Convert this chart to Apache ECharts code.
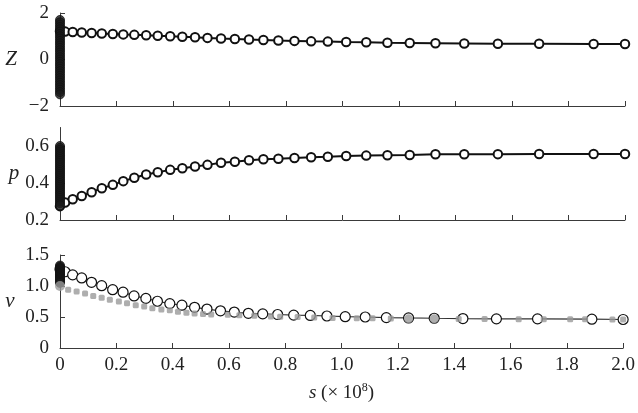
<!DOCTYPE html>
<html>
<head>
<meta charset="utf-8">
<script src="https://cdn.jsdelivr.net/npm/echarts@6/dist/echarts.min.js"></script>
<style>
html,body{margin:0;padding:0;background:#fff;}
#chart{width:638px;height:413px;}
</style>
</head>
<body>
<div id="chart"></div>
<script>
// sample positions of the circle markers, s in units of 1e8
var sVals = [0.018,0.045,0.077,0.112,0.148,0.187,0.224,0.263,0.305,0.346,0.390,0.433,0.478,0.522,0.570,0.619,0.669,0.720,0.773,0.830,0.889,0.948,1.013,1.084,1.159,1.238,1.329,1.431,1.550,1.696,1.889,2.0];
var zVals = [1.20,1.18,1.16,1.14,1.12,1.10,1.08,1.06,1.04,1.02,1.00,0.98,0.96,0.93,0.90,0.88,0.86,0.84,0.82,0.80,0.78,0.77,0.75,0.74,0.72,0.71,0.70,0.69,0.68,0.68,0.67,0.67];
var pVals = [0.294,0.312,0.330,0.350,0.372,0.390,0.410,0.428,0.446,0.458,0.471,0.480,0.489,0.498,0.509,0.515,0.523,0.528,0.531,0.535,0.539,0.542,0.546,0.548,0.550,0.551,0.555,0.555,0.556,0.557,0.557,0.557];
var vVals = [1.23,1.18,1.13,1.06,1.005,0.94,0.90,0.84,0.80,0.754,0.716,0.69,0.656,0.628,0.60,0.58,0.56,0.55,0.54,0.53,0.525,0.516,0.505,0.50,0.49,0.485,0.48,0.475,0.47,0.47,0.465,0.46];
// values at s = 0 (start of each curve)
var zStart = 1.22, pStart = 0.275, vStart = 1.27;
// dense transient stacks drawn at s = 0
var zStack = [1.7,1.6,1.5,1.4,1.3,1.2,1.1,1.0,0.9,0.8,0.7,0.6,0.5,0.4,0.3,0.2,0.1,0.0,-0.1,-0.2,-0.3,-0.4,-0.5,-0.6,-0.7,-0.8,-0.9,-1.0,-1.1,-1.2,-1.3,-1.4,-1.5];
var pStack = [0.60,0.59,0.58,0.57,0.56,0.55,0.54,0.53,0.52,0.51,0.50,0.49,0.48,0.47,0.46,0.45,0.44,0.43,0.42,0.41,0.40,0.39,0.38,0.37,0.36,0.35,0.34,0.33,0.32,0.31,0.30,0.29,0.28];
var vStack = [1.33,1.31,1.29,1.27,1.25,1.23,1.21,1.19,1.17,1.15,1.13,1.11,1.09,1.07,1.05];
// grey reference series (bottom panel)
var gS = [0,0.029,0.059,0.089,0.118,0.148,0.177,0.209,0.238,0.269,0.299,0.328,0.360,0.390,0.419,0.449,0.478,0.508,0.537,0.596,0.637,0.690,0.749,0.782,0.844,0.903,0.968,1.054,1.110,1.175,1.238,1.329,1.416,1.508,1.629,1.718,1.812,1.865,1.962,2.0];
var gV = [1.0,0.94,0.91,0.88,0.84,0.81,0.78,0.75,0.72,0.69,0.67,0.64,0.62,0.61,0.585,0.57,0.557,0.55,0.54,0.535,0.53,0.52,0.51,0.505,0.50,0.49,0.485,0.48,0.478,0.475,0.47,0.47,0.468,0.466,0.465,0.463,0.462,0.462,0.46,0.46];
var xTicks = [0,0.2,0.4,0.6,0.8,1.0,1.2,1.4,1.6,1.8,2.0];
var zTicks = [-2,0,2];
var pTicks = [0.2,0.4,0.6];
var vTicks = [0,0.5,1.0,1.5];

var FONT = '"Times New Roman", "Liberation Serif", Times, serif';
var AX = '#3a3a3a';
function pairs(xs, ys){ return xs.map(function(x,i){return [x, ys[i]];}); }
function withStart(st, xs, ys){ return [[0, st]].concat(pairs(xs, ys)); }
function stack(ys){ return ys.map(function(y){return [0,y];}); }

var grids = [
  {left:60, right:13, top:13, height:93},
  {left:60, right:13, top:127.5, height:92.5},
  {left:60, right:13, top:255, height:93}
];
function xAxis(idx, showLabels){
  var a = {
    type:'value', gridIndex:idx, min:0, max:2, interval:0.2,
    axisLine:{show:true, onZero:false, lineStyle:{color:AX, width:1}},
    axisTick:{show:true, inside:true, length:5, lineStyle:{color:AX}},
    splitLine:{show:false},
    axisLabel:{show:showLabels, margin:8, fontFamily:FONT, fontSize:19, color:'#222',
      formatter:function(v){ return v===0 ? '0' : v.toFixed(1); }}
  };
  if (showLabels){
    a.name = '{i|s} (× 10{sup|8})';
    a.nameLocation = 'middle';
    a.nameGap = 45;
    a.nameTextStyle = {fontFamily:FONT, fontSize:19, color:'#222', verticalAlign:'middle',
      rich:{ i:{fontFamily:FONT, fontSize:19, fontStyle:'italic', color:'#222'},
             sup:{fontFamily:FONT, fontSize:12, color:'#222', verticalAlign:'bottom', padding:[0,0,10,0]} }};
  }
  return a;
}
function yAxis(idx, min, max, ticks, name, gap, fmt){
  return {
    type:'value', gridIndex:idx, min:min, max:max,
    name:name, nameLocation:'middle', nameGap:gap, nameRotate:0,
    nameTextStyle:{fontFamily:FONT, fontSize:21, fontStyle:'italic', color:'#222', align:'center', verticalAlign:'middle'},
    axisLine:{show:true, onZero:false, lineStyle:{color:AX, width:1}},
    axisTick:{show:true, inside:true, length:5, lineStyle:{color:AX}, customValues:ticks},
    splitLine:{show:false},
    axisLabel:{margin:11, fontFamily:FONT, fontSize:19, color:'#222', customValues:ticks, formatter:fmt}
  };
}
var chart = echarts.init(document.getElementById('chart'), null, {renderer:'canvas'});
var circ = function(bw, size, fill){ return {symbol:'circle', symbolSize:size, itemStyle:{color:fill || '#fff', borderColor:'#111', borderWidth:bw}}; };
function lineSeries(idx, data, lw, bw, size, lc){
  return Object.assign({type:'line', xAxisIndex:idx, yAxisIndex:idx, data:data, showSymbol:true, showAllSymbol:true,
    lineStyle:{color:lc, width:lw}, animation:false, z:3}, circ(bw, size));
}
function stackSeries(idx, data, size){
  return Object.assign({type:'scatter', xAxisIndex:idx, yAxisIndex:idx, data:data, animation:false, z:4}, circ(1, size, '#1a1a1a'));
}
var greyData = pairs(gS, gV).map(function(p, i){
  if (i === 0) return {value:p, symbol:'circle', symbolSize:10, z:5};
  if (p[0] === 1.238 || p[0] === 1.329) return {value:p, symbol:'circle', symbolSize:9};
  return {value:p};
});
chart.setOption({
  animation:false,
  backgroundColor:'#fff',
  grid:grids,
  xAxis:[xAxis(0,false), xAxis(1,false), xAxis(2,true)],
  yAxis:[
    yAxis(0,-2,2,zTicks,'Z',49,function(v){ return v<0 ? '\u2212'+Math.abs(v) : String(v); }),
    yAxis(1,0.2,0.7,pTicks,'p',45,function(v){ return v.toFixed(1); }),
    yAxis(2,0,1.5,vTicks,'v',50,function(v){ return v===0 ? '0' : v.toFixed(1); })
  ],
  series:[
    lineSeries(0, withStart(zStart, sVals, zVals), 2, 2, 8.5, '#111'),
    stackSeries(0, stack(zStack), 9),
    lineSeries(1, withStart(pStart, sVals, pVals), 2, 2, 8.5, '#111'),
    stackSeries(1, stack(pStack), 9),
    lineSeries(2, withStart(vStart, sVals, vVals), 1.2, 1.2, 10, '#333'),
    stackSeries(2, stack(vStack), 9),
    {type:'scatter', xAxisIndex:2, yAxisIndex:2, data:greyData, symbol:'roundRect', symbolSize:6,
      itemStyle:{color:'#9a9a9a'}, animation:false, z:5}
  ]
});
</script>
</body>
</html>
